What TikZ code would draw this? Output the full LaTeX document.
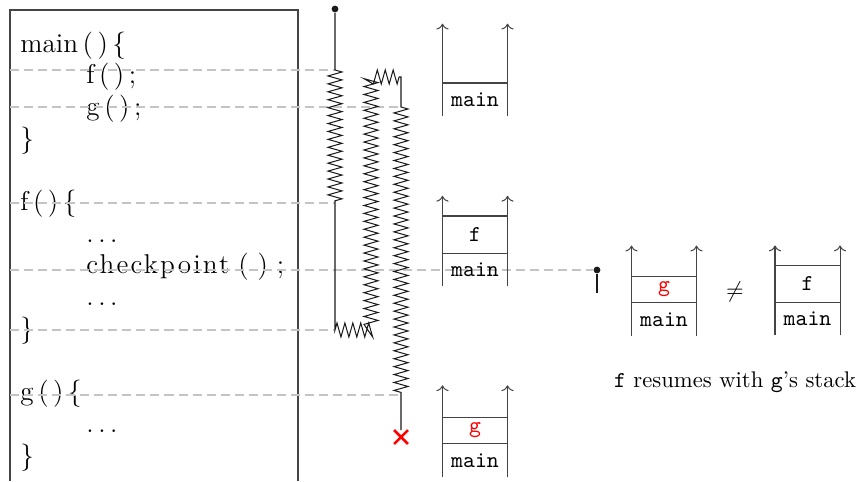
\documentclass[tikz,border=0pt]{standalone}
\usepackage{fontspec}
\usepackage{tikz}
\usetikzlibrary{arrows.meta,positioning,decorations.pathmorphing,shapes.misc}
\definecolor{CkptInk}{HTML}{1A1A1A}
\definecolor{CkptFrame}{HTML}{444444}
\definecolor{CkptGuide}{HTML}{C4C4C4}
\definecolor{CkptRed}{HTML}{FF0000}
\tikzset{
  ckpt code/.style={anchor=base west,inner sep=0pt,font=\large},
  ckpt frame/.style={draw=CkptFrame,line width=0.5pt},
  ckpt guide/.style={draw=CkptGuide,dash pattern=on 4pt off 2.2pt,line width=0.5pt},
  ckpt thread/.style={draw=CkptInk,line width=0.45pt},
  ckpt jump/.style={decoration={zigzag,amplitude=3.1pt,segment length=3.5pt}},
  ckpt dot/.style={circle,fill=CkptInk,inner sep=0pt,minimum size=3pt},
  ckpt crash/.style={cross out,draw=CkptRed,line width=1.1pt,inner sep=0pt,minimum size=5pt},
  ckpt cell/.style={inner sep=0pt,minimum width=28.3pt,minimum height=14pt,font=\ttfamily},
  ckpt wall/.style={->,draw=CkptFrame,line width=0.45pt},
  ckpt rule/.style={draw=CkptFrame,line width=0.45pt}
}
\newfontfamily\ckptspaced[LetterSpace=8]{Latin Modern Roman}
\begin{document}
\begin{tikzpicture}[x=0.4415pt,y=-0.4415pt]
  \useasboundingbox (0,0) rectangle (857,481);

  \coordinate (boxnw) at (10,10);
  \coordinate (boxne) at (298,10);
  \coordinate (boxsw) at (10,481);
  \draw[ckpt frame] (boxsw) -- (boxnw) -- (boxne) -- (boxne |- boxsw);

  \node[ckpt code] (lmain) at (20,52) {main\,(\,)\,\{};
  \node[ckpt code] (lcallf) at (86,83.7) {f\,(\,)\,;};
  \node[ckpt code] (lcallg) at (86,115.4) {g\,(\,)\,;};
  \node[ckpt code] (lendmain) at (20,147.1) {\}};
  \node[ckpt code] (lf) at (20,210.5) {f\,(\,)\,\{};
  \node[ckpt code] (lfdotsa) at (86,242.2) {$\ldots$};
  \node[ckpt code] (lckpt) at (86,273.9) {{\ckptspaced checkpoint} ( ) ;};
  \node[ckpt code] (lfdotsb) at (86,305.6) {$\ldots$};
  \node[ckpt code] (lendf) at (20,337.3) {\}};
  \node[ckpt code] (lg) at (20,400.7) {g\,(\,)\,\{};
  \node[ckpt code] (lgdots) at (86,432.4) {$\ldots$};
  \node[ckpt code] (lendg) at (20,464.1) {\}};

  \coordinate (callf) at (335,70);
  \coordinate (entf) at (335,203);
  \coordinate (retf) at (335,330);
  \coordinate (retmain) at (371,330);
  \coordinate (backtop) at (371,77);
  \coordinate (backmain) at (401,77);
  \coordinate (callg) at (401,107);
  \coordinate (entg) at (401,395);
  \node[ckpt dot] (start) at (335,9) {};
  \node[ckpt crash] (crash) at (401,437) {};
  \node[ckpt dot] (ckptdot) at (597,270) {};
  \coordinate (ckptend) at (597,293);

  \draw[ckpt guide] (callf -| boxnw) -- (callf);
  \draw[ckpt guide] (callg -| boxnw) -- (callg);
  \draw[ckpt guide] (entf -| boxnw) -- (entf);
  \draw[ckpt guide] (ckptdot -| boxnw) -- (ckptdot);
  \draw[ckpt guide] (retf -| boxnw) -- (retf);
  \draw[ckpt guide] (entg -| boxnw) -- (entg);

  \draw[ckpt thread] (start) -- (callf)
    decorate[ckpt jump]{-- (entf)} -- (retf)
    decorate[ckpt jump]{-- (retmain) -- (backtop) -- (backmain)}
    -- (callg) decorate[ckpt jump]{-- (entg)} -- (crash);
  \draw[ckpt thread] (ckptdot) -- (ckptend);

  \node[ckpt cell,anchor=north] (s1main) at (475,83) {main};
  \draw[ckpt rule] (s1main.north west) -- (s1main.north east);
  \draw[ckpt wall] (s1main.south west) -- ++(0,-92);
  \draw[ckpt wall] (s1main.south east) -- ++(0,-92);

  \node[ckpt cell,anchor=north,minimum height=16pt] (s2f) at (475,216) {f};
  \node[ckpt cell,below=0pt of s2f] (s2main) {main};
  \draw[ckpt rule] (s2f.north west) -- (s2f.north east);
  \draw[ckpt rule] (s2main.north west) -- (s2main.north east);
  \draw[ckpt wall] (s2main.south west) -- ++(0,-90);
  \draw[ckpt wall] (s2main.south east) -- ++(0,-90);

  \node[ckpt cell,anchor=north,minimum height=11.2pt,text=CkptRed] (s3g) at (475,417) {g};
  \node[ckpt cell,below=0pt of s3g,minimum height=14.6pt] (s3main) {main};
  \draw[ckpt rule] (s3g.north west) -- (s3g.north east);
  \draw[ckpt rule] (s3main.north west) -- (s3main.north east);
  \draw[ckpt wall] (s3main.south west) -- ++(0,-92);
  \draw[ckpt wall] (s3main.south east) -- ++(0,-92);

  \node[ckpt cell,anchor=north,minimum height=11.5pt,text=CkptRed] (s4g) at (664,276) {g};
  \node[ckpt cell,below=0pt of s4g] (s4main) {main};
  \draw[ckpt rule] (s4g.north west) -- (s4g.north east);
  \draw[ckpt rule] (s4main.north west) -- (s4main.north east);
  \draw[ckpt wall] (s4main.south west) -- ++(0,-90);
  \draw[ckpt wall] (s4main.south east) -- ++(0,-90);

  \node (neq) at (735,292) {$\neq$};

  \node[ckpt cell,anchor=north,minimum height=16.3pt] (s5f) at (807.5,265) {f};
  \node[ckpt cell,below=0pt of s5f] (s5main) {main};
  \draw[ckpt rule] (s5f.north west) -- (s5f.north east);
  \draw[ckpt rule] (s5main.north west) -- (s5main.north east);
  \draw[ckpt wall] (s5main.south west) -- ++(0,-90);
  \draw[ckpt wall] (s5main.south east) -- ++(0,-90);

  \node (caption) at (735,382) {\texttt{f} resumes with \texttt{g}'s stack};
\end{tikzpicture}
\end{document}
